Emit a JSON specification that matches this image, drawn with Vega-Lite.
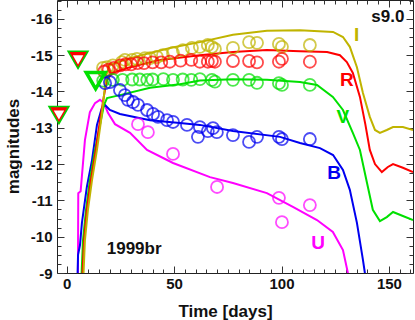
{
  "$schema": "https://vega.github.io/schema/vega-lite/v6.json",
  "width": 356,
  "height": 273,
  "autosize": {"type": "none"},
  "padding": {"left": 57, "top": 0, "right": 2, "bottom": 47},
  "background": "white",
  "config": {
    "view": {"stroke": "#222", "strokeWidth": 1},
    "font": "Liberation Sans"
  },
  "datasets": {
    "lines": [
      {"band": "U", "d": 5.2, "m": -8.5}, {"band": "U", "d": 5.4, "m": -11.2}, {"band": "U", "d": 6.5, "m": -11.25}, {"band": "U", "d": 8.5, "m": -12.66}, {"band": "U", "d": 10.8, "m": -13.43}, {"band": "U", "d": 13.2, "m": -13.68}, {"band": "U", "d": 15.5, "m": -13.77}, {"band": "U", "d": 17.4, "m": -13.68}, {"band": "U", "d": 19.2, "m": -13.41}, {"band": "U", "d": 22.5, "m": -13.1}, {"band": "U", "d": 29.5, "m": -12.86}, {"band": "U", "d": 37.4, "m": -12.39}, {"band": "U", "d": 49.5, "m": -12.03}, {"band": "U", "d": 66.7, "m": -11.64}, {"band": "U", "d": 77.4, "m": -11.48}, {"band": "U", "d": 93.2, "m": -11.2}, {"band": "U", "d": 105.3, "m": -10.82}, {"band": "U", "d": 116.5, "m": -10.46}, {"band": "U", "d": 123.9, "m": -10.13}, {"band": "U", "d": 128.6, "m": -9.63}, {"band": "U", "d": 130.9, "m": -9.0}, {"band": "U", "d": 133.0, "m": -8.2},
      {"band": "B", "d": 4.9, "m": -8.5}, {"band": "B", "d": 5.3, "m": -9.5}, {"band": "B", "d": 6.2, "m": -9.77}, {"band": "B", "d": 7.1, "m": -10.38}, {"band": "B", "d": 9.4, "m": -11.37}, {"band": "B", "d": 11.8, "m": -12.11}, {"band": "B", "d": 14.1, "m": -13.08}, {"band": "B", "d": 16.4, "m": -13.55}, {"band": "B", "d": 18.0, "m": -13.62}, {"band": "B", "d": 20.1, "m": -13.49}, {"band": "B", "d": 24.8, "m": -13.38}, {"band": "B", "d": 38.8, "m": -13.21}, {"band": "B", "d": 52.7, "m": -13.13}, {"band": "B", "d": 62.0, "m": -13.08}, {"band": "B", "d": 77.4, "m": -12.91}, {"band": "B", "d": 99.3, "m": -12.75}, {"band": "B", "d": 108.6, "m": -12.58}, {"band": "B", "d": 117.9, "m": -12.44}, {"band": "B", "d": 124.0, "m": -12.25}, {"band": "B", "d": 128.6, "m": -11.84}, {"band": "B", "d": 131.8, "m": -11.29}, {"band": "B", "d": 135.1, "m": -10.38}, {"band": "B", "d": 137.9, "m": -9.36}, {"band": "B", "d": 138.8, "m": -9.0}, {"band": "B", "d": 140.2, "m": -8.25},
      {"band": "V", "d": 6.6, "m": -8.5}, {"band": "V", "d": 7.6, "m": -9.9}, {"band": "V", "d": 9.0, "m": -10.74}, {"band": "V", "d": 10.8, "m": -11.56}, {"band": "V", "d": 13.2, "m": -12.39}, {"band": "V", "d": 15.5, "m": -13.08}, {"band": "V", "d": 17.4, "m": -13.63}, {"band": "V", "d": 18.8, "m": -13.82}, {"band": "V", "d": 24.8, "m": -13.9}, {"band": "V", "d": 38.8, "m": -14.1}, {"band": "V", "d": 52.7, "m": -14.2}, {"band": "V", "d": 62.0, "m": -14.3}, {"band": "V", "d": 77.4, "m": -14.34}, {"band": "V", "d": 93.2, "m": -14.32}, {"band": "V", "d": 108.6, "m": -14.26}, {"band": "V", "d": 116.5, "m": -14.18}, {"band": "V", "d": 123.9, "m": -13.85}, {"band": "V", "d": 128.6, "m": -13.49}, {"band": "V", "d": 133.2, "m": -12.86}, {"band": "V", "d": 136.5, "m": -12.39}, {"band": "V", "d": 139.8, "m": -11.48}, {"band": "V", "d": 142.5, "m": -10.74}, {"band": "V", "d": 145.8, "m": -10.43}, {"band": "V", "d": 149.0, "m": -10.54}, {"band": "V", "d": 151.9, "m": -10.68}, {"band": "V", "d": 156.5, "m": -10.57}, {"band": "V", "d": 161.2, "m": -10.46},
      {"band": "R", "d": 7.0, "m": -8.5}, {"band": "R", "d": 8.1, "m": -9.9}, {"band": "R", "d": 9.4, "m": -10.74}, {"band": "R", "d": 11.3, "m": -11.56}, {"band": "R", "d": 13.6, "m": -12.39}, {"band": "R", "d": 15.5, "m": -13.2}, {"band": "R", "d": 17.4, "m": -13.9}, {"band": "R", "d": 18.8, "m": -14.32}, {"band": "R", "d": 21.1, "m": -14.51}, {"band": "R", "d": 29.5, "m": -14.67}, {"band": "R", "d": 43.4, "m": -14.87}, {"band": "R", "d": 62.0, "m": -15.0}, {"band": "R", "d": 77.4, "m": -15.09}, {"band": "R", "d": 93.2, "m": -15.14}, {"band": "R", "d": 108.6, "m": -15.11}, {"band": "R", "d": 121.2, "m": -15.09}, {"band": "R", "d": 127.2, "m": -15.0}, {"band": "R", "d": 130.4, "m": -14.81}, {"band": "R", "d": 133.2, "m": -14.51}, {"band": "R", "d": 136.5, "m": -13.85}, {"band": "R", "d": 139.0, "m": -13.1}, {"band": "R", "d": 141.1, "m": -12.39}, {"band": "R", "d": 143.5, "m": -12.0}, {"band": "R", "d": 146.7, "m": -11.78}, {"band": "R", "d": 149.5, "m": -11.92}, {"band": "R", "d": 151.9, "m": -12.0}, {"band": "R", "d": 156.5, "m": -11.9}, {"band": "R", "d": 161.2, "m": -11.78},
      {"band": "I", "d": 7.5, "m": -8.5}, {"band": "I", "d": 8.5, "m": -9.9}, {"band": "I", "d": 9.9, "m": -10.74}, {"band": "I", "d": 11.8, "m": -11.56}, {"band": "I", "d": 14.1, "m": -12.39}, {"band": "I", "d": 16.0, "m": -13.2}, {"band": "I", "d": 17.4, "m": -13.9}, {"band": "I", "d": 18.3, "m": -14.45}, {"band": "I", "d": 20.1, "m": -14.73}, {"band": "I", "d": 29.5, "m": -14.92}, {"band": "I", "d": 48.1, "m": -15.2}, {"band": "I", "d": 62.0, "m": -15.36}, {"band": "I", "d": 77.4, "m": -15.56}, {"band": "I", "d": 93.2, "m": -15.67}, {"band": "I", "d": 108.6, "m": -15.69}, {"band": "I", "d": 124.0, "m": -15.64}, {"band": "I", "d": 128.6, "m": -15.5}, {"band": "I", "d": 131.8, "m": -15.23}, {"band": "I", "d": 135.1, "m": -14.67}, {"band": "I", "d": 137.9, "m": -13.96}, {"band": "I", "d": 141.1, "m": -13.3}, {"band": "I", "d": 143.5, "m": -12.94}, {"band": "I", "d": 145.8, "m": -12.86}, {"band": "I", "d": 149.0, "m": -12.94}, {"band": "I", "d": 151.9, "m": -13.02}, {"band": "I", "d": 156.5, "m": -13.02}, {"band": "I", "d": 161.2, "m": -12.94}
    ],
    "obs": [
      {"band": "I", "d": 16.9, "m": -14.65}, {"band": "I", "d": 18.8, "m": -14.67}, {"band": "I", "d": 21.5, "m": -14.72}, {"band": "I", "d": 25.7, "m": -14.81}, {"band": "I", "d": 27.1, "m": -14.87}, {"band": "I", "d": 30.4, "m": -14.87}, {"band": "I", "d": 32.7, "m": -14.9}, {"band": "I", "d": 36.4, "m": -14.92}, {"band": "I", "d": 38.8, "m": -14.92}, {"band": "I", "d": 42.0, "m": -14.95}, {"band": "I", "d": 44.8, "m": -15.0}, {"band": "I", "d": 49.5, "m": -15.06}, {"band": "I", "d": 54.1, "m": -15.14}, {"band": "I", "d": 58.3, "m": -15.2}, {"band": "I", "d": 62.0, "m": -15.23}, {"band": "I", "d": 65.7, "m": -15.28}, {"band": "I", "d": 67.6, "m": -15.23}, {"band": "I", "d": 69.0, "m": -15.17}, {"band": "I", "d": 77.4, "m": -15.2}, {"band": "I", "d": 84.9, "m": -15.36}, {"band": "I", "d": 88.6, "m": -15.34}, {"band": "I", "d": 98.8, "m": -15.31}, {"band": "I", "d": 100.2, "m": -15.23}, {"band": "I", "d": 113.2, "m": -15.28},
      {"band": "R", "d": 17.5, "m": -14.55}, {"band": "R", "d": 19.5, "m": -14.6}, {"band": "R", "d": 22.0, "m": -14.65}, {"band": "R", "d": 25.0, "m": -14.72}, {"band": "R", "d": 27.5, "m": -14.75}, {"band": "R", "d": 30.0, "m": -14.75}, {"band": "R", "d": 33.0, "m": -14.78}, {"band": "R", "d": 36.0, "m": -14.78}, {"band": "R", "d": 40.0, "m": -14.8}, {"band": "R", "d": 44.0, "m": -14.8}, {"band": "R", "d": 48.0, "m": -14.82}, {"band": "R", "d": 53.0, "m": -14.85}, {"band": "R", "d": 58.0, "m": -14.87}, {"band": "R", "d": 62.0, "m": -14.82}, {"band": "R", "d": 65.7, "m": -14.82}, {"band": "R", "d": 67.6, "m": -14.84}, {"band": "R", "d": 69.0, "m": -14.82}, {"band": "R", "d": 77.4, "m": -14.84}, {"band": "R", "d": 84.9, "m": -14.84}, {"band": "R", "d": 88.6, "m": -14.8}, {"band": "R", "d": 98.8, "m": -14.82}, {"band": "R", "d": 100.2, "m": -14.9}, {"band": "R", "d": 113.2, "m": -14.82},
      {"band": "V", "d": 17.0, "m": -14.3}, {"band": "V", "d": 21.5, "m": -14.32}, {"band": "V", "d": 26.0, "m": -14.32}, {"band": "V", "d": 30.5, "m": -14.33}, {"band": "V", "d": 34.0, "m": -14.33}, {"band": "V", "d": 37.5, "m": -14.32}, {"band": "V", "d": 40.0, "m": -14.33}, {"band": "V", "d": 45.0, "m": -14.34}, {"band": "V", "d": 49.5, "m": -14.32}, {"band": "V", "d": 54.0, "m": -14.33}, {"band": "V", "d": 58.0, "m": -14.32}, {"band": "V", "d": 62.0, "m": -14.34}, {"band": "V", "d": 67.6, "m": -14.32}, {"band": "V", "d": 69.0, "m": -14.27}, {"band": "V", "d": 77.4, "m": -14.32}, {"band": "V", "d": 84.9, "m": -14.32}, {"band": "V", "d": 88.6, "m": -14.24}, {"band": "V", "d": 98.8, "m": -14.23}, {"band": "V", "d": 100.2, "m": -14.18}, {"band": "V", "d": 113.2, "m": -14.18},
      {"band": "B", "d": 17.9, "m": -14.23}, {"band": "B", "d": 20.1, "m": -14.26}, {"band": "B", "d": 24.8, "m": -14.04}, {"band": "B", "d": 27.1, "m": -13.9}, {"band": "B", "d": 28.5, "m": -13.77}, {"band": "B", "d": 30.9, "m": -13.71}, {"band": "B", "d": 33.2, "m": -13.63}, {"band": "B", "d": 37.4, "m": -13.49}, {"band": "B", "d": 40.2, "m": -13.38}, {"band": "B", "d": 42.5, "m": -13.3}, {"band": "B", "d": 46.7, "m": -13.21}, {"band": "B", "d": 49.5, "m": -13.16}, {"band": "B", "d": 56.0, "m": -13.08}, {"band": "B", "d": 62.0, "m": -13.02}, {"band": "B", "d": 61.1, "m": -12.75}, {"band": "B", "d": 65.7, "m": -12.91}, {"band": "B", "d": 68.1, "m": -12.99}, {"band": "B", "d": 69.9, "m": -12.88}, {"band": "B", "d": 77.4, "m": -12.8}, {"band": "B", "d": 84.9, "m": -12.61}, {"band": "B", "d": 88.6, "m": -12.75}, {"band": "B", "d": 98.8, "m": -12.75}, {"band": "B", "d": 100.2, "m": -12.69}, {"band": "B", "d": 113.2, "m": -12.69},
      {"band": "U", "d": 33.2, "m": -13.1}, {"band": "U", "d": 37.8, "m": -12.88}, {"band": "U", "d": 49.5, "m": -12.28}, {"band": "U", "d": 70.0, "m": -11.37}, {"band": "U", "d": 98.8, "m": -11.07}, {"band": "U", "d": 113.2, "m": -10.87}, {"band": "U", "d": 100.2, "m": -10.4}
    ],
    "limits": [
      {"band": "R", "d": 5.3, "m": -14.87},
      {"band": "R", "d": -3.6, "m": -13.35},
      {"band": "V", "d": 13.5, "m": -14.3}
    ],
    "bandlabels": [
      {"band": "I", "d": 135, "m": -15.56},
      {"band": "R", "d": 130.4, "m": -14.32},
      {"band": "V", "d": 128.6, "m": -13.3},
      {"band": "B", "d": 124.5, "m": -11.75},
      {"band": "U", "d": 117, "m": -9.83}
    ],
    "notes": [
      {"t": "s9.0", "d": 149.5, "m": -16.05},
      {"t": "1999br", "d": 31.4, "m": -9.66}
    ]
  },
  "layer": [
    {
      "data": {"name": "lines"},
      "mark": {"type": "line", "strokeWidth": 2, "clip": true},
      "encoding": {
        "x": {
          "field": "d", "type": "quantitative",
          "scale": {"domain": [-4.5, 161.2], "nice": false, "zero": false},
          "axis": {
            "orient": "bottom",
            "values": [0, 5, 10, 15, 20, 25, 30, 35, 40, 45, 50, 55, 60, 65, 70, 75, 80, 85, 90, 95, 100, 105, 110, 115, 120, 125, 130, 135, 140, 145, 150, 155, 160],
            "labelExpr": "datum.value % 50 === 0 ? datum.label : ''",
            "tickSize": {"condition": {"test": "datum.value % 50 === 0", "value": -7}, "value": -4},
            "tickColor": "#333",
            "domain": false, "grid": false,
            "labelFont": "Liberation Sans", "labelFontWeight": "bold", "labelFontSize": 15, "labelColor": "#111",
            "labelPadding": 10,
            "title": "Time [days]",
            "titleFont": "Liberation Sans", "titleFontWeight": "bold", "titleFontSize": 17, "titleColor": "#111",
            "titleX": 168, "titleY": 38, "titleBaseline": "middle", "titleAlign": "center"
          }
        },
        "y": {
          "field": "m", "type": "quantitative",
          "scale": {"domain": [-16.52, -9], "reverse": true, "nice": false, "zero": false},
          "axis": {
            "orient": "left",
            "values": [-16.5, -16.25, -16, -15.75, -15.5, -15.25, -15, -14.75, -14.5, -14.25, -14, -13.75, -13.5, -13.25, -13, -12.75, -12.5, -12.25, -12, -11.75, -11.5, -11.25, -11, -10.75, -10.5, -10.25, -10, -9.75, -9.5, -9.25, -9],
            "labelExpr": "datum.value % 1 === 0 ? '-' + format(-datum.value, 'd') : ''",
            "tickSize": {"condition": {"test": "datum.value % 1 === 0", "value": -7}, "value": -4},
            "tickColor": "#333",
            "domain": false, "grid": false,
            "labelFont": "Liberation Sans", "labelFontWeight": "bold", "labelFontSize": 15, "labelColor": "#111",
            "labelPadding": 12,
            "title": "magnitudes",
            "titleFont": "Liberation Sans", "titleFontWeight": "bold", "titleFontSize": 17, "titleColor": "#111",
            "titleX": -44, "titleY": 146, "titleAngle": -90, "titleBaseline": "middle", "titleAlign": "center"
          }
        },
        "color": {
          "field": "band", "type": "nominal",
          "scale": {"domain": ["U", "B", "V", "R", "I"], "range": ["#FF00FF", "#0000F0", "#00E000", "#FF0000", "#C0B400"]},
          "legend": null
        }
      }
    },
    {
      "data": {"name": "obs"},
      "mark": {"type": "point", "shape": "circle", "filled": false, "strokeWidth": 1.8, "size": 145, "clip": true},
      "encoding": {
        "x": {
          "field": "d", "type": "quantitative",
          "axis": {
            "orient": "top",
            "values": [0, 5, 10, 15, 20, 25, 30, 35, 40, 45, 50, 55, 60, 65, 70, 75, 80, 85, 90, 95, 100, 105, 110, 115, 120, 125, 130, 135, 140, 145, 150, 155, 160],
            "labels": false,
            "tickSize": {"condition": {"test": "datum.value % 50 === 0", "value": -7}, "value": -4},
            "tickColor": "#333", "domain": false, "grid": false, "title": null
          }
        },
        "y": {
          "field": "m", "type": "quantitative",
          "axis": {
            "orient": "right",
            "values": [-16.5, -16.25, -16, -15.75, -15.5, -15.25, -15, -14.75, -14.5, -14.25, -14, -13.75, -13.5, -13.25, -13, -12.75, -12.5, -12.25, -12, -11.75, -11.5, -11.25, -11, -10.75, -10.5, -10.25, -10, -9.75, -9.5, -9.25, -9],
            "labels": false,
            "tickSize": {"condition": {"test": "datum.value % 1 === 0", "value": -7}, "value": -4},
            "tickColor": "#333", "domain": false, "grid": false, "title": null
          }
        },
        "color": {"field": "band", "type": "nominal", "legend": null}
      }
    },
    {
      "data": {"name": "limits"},
      "transform": [{"filter": "datum.band === 'R'"}],
      "mark": {"type": "point", "shape": "triangle-down", "filled": true, "fill": "#FF0000", "stroke": "#00D000", "strokeWidth": 1.5, "size": 400, "opacity": 1},
      "encoding": {
        "x": {"field": "d", "type": "quantitative", "axis": null},
        "y": {"field": "m", "type": "quantitative", "axis": null}
      }
    },
    {
      "data": {"name": "limits"},
      "transform": [{"filter": "datum.band === 'R'"}],
      "mark": {"type": "point", "shape": "triangle-down", "filled": true, "fill": "white", "strokeWidth": 0, "size": 110, "opacity": 1},
      "encoding": {
        "x": {"field": "d", "type": "quantitative", "axis": null},
        "y": {"field": "m", "type": "quantitative", "axis": null}
      }
    },
    {
      "data": {"name": "limits"},
      "transform": [{"filter": "datum.band === 'V'"}],
      "mark": {"type": "point", "shape": "triangle-down", "filled": false, "stroke": "#00E000", "strokeWidth": 3.5, "size": 360, "opacity": 1},
      "encoding": {
        "x": {"field": "d", "type": "quantitative", "axis": null},
        "y": {"field": "m", "type": "quantitative", "axis": null}
      }
    },
    {
      "data": {"name": "bandlabels"},
      "mark": {"type": "text", "font": "Liberation Sans", "fontWeight": "bold", "fontSize": 19, "align": "center", "baseline": "middle"},
      "encoding": {
        "x": {"field": "d", "type": "quantitative", "axis": null},
        "y": {"field": "m", "type": "quantitative", "axis": null},
        "text": {"field": "band"},
        "color": {"field": "band", "type": "nominal", "legend": null}
      }
    },
    {
      "data": {"name": "notes"},
      "mark": {"type": "text", "font": "Liberation Sans", "fontWeight": "bold", "fontSize": 17, "align": "center", "baseline": "middle", "color": "#111"},
      "encoding": {
        "x": {"field": "d", "type": "quantitative", "axis": null},
        "y": {"field": "m", "type": "quantitative", "axis": null},
        "text": {"field": "t"}
      }
    }
  ],
  "resolve": {"axis": {"x": "independent", "y": "independent"}}
}
